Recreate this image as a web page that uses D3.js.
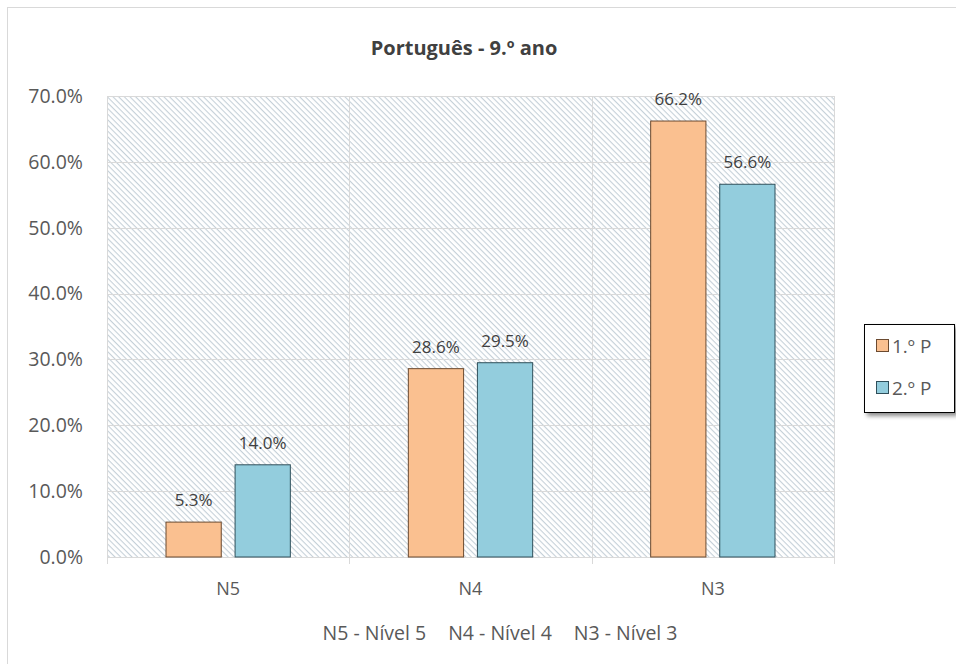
<!DOCTYPE html>
<html>
<head>
<meta charset="utf-8">
<script src="https://cdn.jsdelivr.net/npm/d3@7"></script>
<style>
  body { margin: 0; background: #fff; }
  svg { font-family: "Open Sans", "DejaVu Sans", sans-serif; }
</style>
</head>
<body>
<div id="chart"></div>
<script>
// Data
const categories = ["N5", "N4", "N3"];
const seriesNames = ["1.º P", "2.º P"];
const period1 = [5.3, 28.6, 66.2];
const period2 = [14.0, 29.5, 56.6];
const yTicks = [0, 10, 20, 30, 40, 50, 60, 70];
const footnote = ["N5 - Nível 5", "N4 - Nível 4", "N3 - Nível 3"];

const colors = ["#FAC090", "#93CDDD"];
const strokes = ["#6b4a30", "#2f4f5a"];

const W = 956, H = 664;
const plot = { left: 107, right: 834, top: 96, bottom: 557 };

const svg = d3.select("#chart").append("svg")
  .attr("width", W)
  .attr("height", H);

// hatch pattern for the plot background
const defs = svg.append("defs");
const pat = defs.append("pattern")
  .attr("id", "hatch")
  .attr("patternUnits", "userSpaceOnUse")
  .attr("width", 4)
  .attr("height", 4)
  .attr("patternTransform", "rotate(45)");
pat.append("rect").attr("width", 4).attr("height", 4).attr("fill", "#fff");
pat.append("line")
  .attr("x1", 0).attr("y1", 0).attr("x2", 4).attr("y2", 0)
  .attr("stroke", "#c5d0d8").attr("stroke-width", 2.2);

const shadow = defs.append("filter").attr("id", "shadow")
  .attr("x", "-20%").attr("y", "-20%").attr("width", "150%").attr("height", "150%");
shadow.append("feDropShadow")
  .attr("dx", 3).attr("dy", 3).attr("stdDeviation", 2)
  .attr("flood-color", "#000").attr("flood-opacity", 0.45);

// outer chart border
svg.append("rect")
  .attr("x", 7.5).attr("y", 7.5)
  .attr("width", 960).attr("height", 670)
  .attr("fill", "#fff")
  .attr("stroke", "#d9d9d9");

// Scales
const x0 = d3.scaleBand()
  .domain(categories)
  .range([plot.left, plot.right])
  .paddingInner(0).paddingOuter(0);

const x1 = d3.scaleBand()
  .domain(seriesNames)
  .range([59, x0.bandwidth() - 59])
  .paddingInner(0.2);

const y = d3.scaleLinear()
  .domain([0, 70])
  .range([plot.bottom, plot.top]);

// plot background
svg.append("rect")
  .attr("x", plot.left).attr("y", plot.top)
  .attr("width", plot.right - plot.left)
  .attr("height", plot.bottom - plot.top)
  .attr("fill", "url(#hatch)");

// horizontal gridlines
svg.append("g")
  .selectAll("line")
  .data(yTicks)
  .join("line")
    .attr("x1", plot.left).attr("x2", plot.right)
    .attr("y1", d => Math.round(y(d)) + 0.5)
    .attr("y2", d => Math.round(y(d)) + 0.5)
    .attr("stroke", "#d9d9d9");

// vertical gridlines at category boundaries, with ticks below axis
const bounds = categories.map(c => x0(c)).concat([plot.right]);
svg.append("g")
  .selectAll("line")
  .data(bounds)
  .join("line")
    .attr("x1", d => Math.round(d) + 0.5)
    .attr("x2", d => Math.round(d) + 0.5)
    .attr("y1", plot.top)
    .attr("y2", plot.bottom + 7)
    .attr("stroke", "#d9d9d9");

// y axis labels
svg.append("g")
  .selectAll("text")
  .data(yTicks)
  .join("text")
    .attr("x", 83)
    .attr("y", d => y(d))
    .attr("dy", "0.35em")
    .attr("text-anchor", "end")
    .attr("fill", "#595959")
    .style("font-size", "19.5px")
    .text(d => d3.format(".1f")(d) + "%");

// category labels
svg.append("g")
  .selectAll("text")
  .data(categories)
  .join("text")
    .attr("x", d => x0(d) + x0.bandwidth() / 2)
    .attr("y", 595)
    .attr("text-anchor", "middle")
    .attr("fill", "#595959")
    .style("font-size", "18px")
    .text(d => d);

// bars
const rows = categories.map((c, i) => ({
  cat: c,
  values: [
    { key: seriesNames[0], value: period1[i], s: 0 },
    { key: seriesNames[1], value: period2[i], s: 1 }
  ]
}));

const groups = svg.append("g")
  .selectAll("g")
  .data(rows)
  .join("g")
    .attr("transform", d => `translate(${x0(d.cat)},0)`);

groups.selectAll("rect")
  .data(d => d.values)
  .join("rect")
    .attr("x", d => x1(d.key))
    .attr("y", d => y(d.value))
    .attr("width", x1.bandwidth())
    .attr("height", d => y(0) - y(d.value))
    .attr("fill", d => colors[d.s])
    .attr("stroke", d => strokes[d.s])
    .attr("stroke-width", 1);

groups.selectAll("text")
  .data(d => d.values)
  .join("text")
    .attr("x", d => x1(d.key) + x1.bandwidth() / 2)
    .attr("y", d => y(d.value) - 16)
    .attr("text-anchor", "middle")
    .attr("fill", "#404040")
    .style("font-size", "17px")
    .text(d => d3.format(".1f")(d.value) + "%");

// title
svg.append("text")
  .attr("x", 464)
  .attr("y", 55)
  .attr("text-anchor", "middle")
  .attr("fill", "#404040")
  .style("font-size", "20px")
  .style("font-weight", "bold")
  .text("Português - 9.º ano");

// footnote
svg.append("text")
  .attr("x", 500)
  .attr("y", 640)
  .attr("text-anchor", "middle")
  .attr("fill", "#595959")
  .style("font-size", "19.5px")
  .selectAll("tspan")
  .data(footnote)
  .join("tspan")
    .attr("dx", (d, i) => i === 0 ? 0 : 22)
    .text(d => d);

// legend
const legend = svg.append("g").attr("transform", "translate(864,324)");
legend.append("rect")
  .attr("x", 0.5).attr("y", 0.5)
  .attr("width", 90).attr("height", 88)
  .attr("fill", "#fff")
  .attr("stroke", "#000")
  .attr("filter", "url(#shadow)");

const items = legend.selectAll("g.item")
  .data(seriesNames)
  .join("g")
    .attr("class", "item")
    .attr("transform", (d, i) => `translate(12,${22 + i * 42})`);

items.append("rect")
  .attr("x", 0.5).attr("y", -6.5)
  .attr("width", 12).attr("height", 12)
  .attr("fill", (d, i) => colors[i])
  .attr("stroke", (d, i) => strokes[i]);

items.append("text")
  .attr("x", 16)
  .attr("y", 0)
  .attr("dy", "0.35em")
  .attr("fill", "#595959")
  .style("font-size", "19px")
  .text(d => d);
</script>
</body>
</html>
